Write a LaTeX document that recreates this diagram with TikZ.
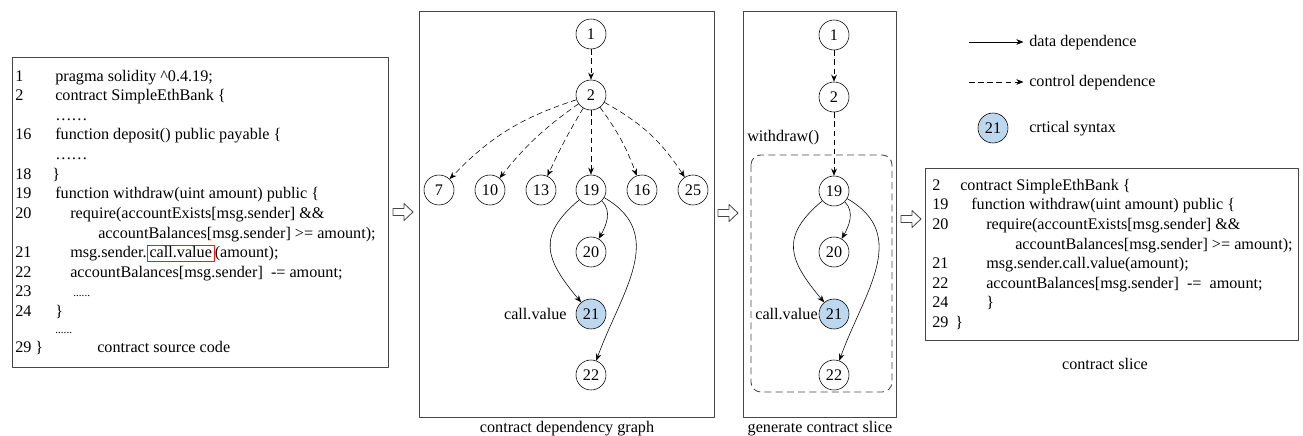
\documentclass[tikz,border=0pt]{standalone}
\usepackage{fontspec}
\setmainfont{Liberation Serif}
\usetikzlibrary{positioning,arrows.meta}
\definecolor{critblue}{RGB}{189,215,238}
\definecolor{boxgray}{RGB}{70,70,70}
\definecolor{hlred}{RGB}{235,30,30}
\tikzset{
  stmt/.style={anchor=west, inner sep=0pt, text height=1.6ex, text depth=.3ex},
  vtx/.style={circle, draw, minimum size=0.75cm, inner sep=0pt},
  crit/.style={vtx, fill=critblue},
  ctrl/.style={->, dash pattern=on 4pt off 2.5pt},
  data/.style={->},
  panel/.style={draw=boxgray, line width=0.6pt}
}
\begin{document}
\begin{tikzpicture}[x=0.025cm, y=-0.025cm, font=\fontsize{11.5}{14}\selectfont,
  line join=round, >={Stealth[length=5pt,width=4pt]}]
\useasboundingbox (0,0) rectangle (1303,435);
% source code
\draw[panel] (12,57) rectangle (388,367);
\path[every node/.style=stmt]
  (15,77) node (n1) {1} (55,77) node (c1) {pragma solidity \textasciicircum0.4.19;}
  (15,96.6) node (n2) {2} (55,96.6) node (c2) {contract SimpleEthBank \{}
  (55,116.2) node (d1) {\ldots\ldots}
  (15,135.8) node (n16) {16} (55,135.8) node (c16) {function deposit() public payable \{}
  (55,155.4) node (d2) {\ldots\ldots}
  (15,175) node (n18) {18} (52,175) node (c18) {\}}
  (15,194.6) node (n19) {19} (55,194.6) node (c19) {function withdraw(uint amount) public \{}
  (15,214.2) node (n20) {20} (70,214.2) node (c20) {require(accountExists[msg.sender] \&\&}
  (98,233.8) node (c20b) {accountBalances[msg.sender] >= amount);}
  (15,253.4) node (n21) {21} (70,253.4) node (c21) {msg.sender.}
  (15,273) node (n22) {22} (70,273) node (c22) {accountBalances[msg.sender] ~-= amount;}
  (15,292.6) node (n23) {23} (73,292.6) node (c23) {\footnotesize ......}
  (15,312.2) node (n24) {24} (55,312.2) node (c24) {\}}
  (55,329) node (d3) {\footnotesize ......}
  (15,348) node (n29) {29 \}} (97,348) node (src) {contract source code};
\node[stmt, right=0pt of c21, draw=hlred, line width=0.7pt, inner sep=1.5pt] (hl) {call.value};
\node[stmt, right=0pt of hl] (c21b) {(amount);};
% dependency graph
\draw[panel] (419,11) rectangle (714,417);
\node[vtx] (g1) at (591,34) {1};
\node[vtx] (g2) at (591,95) {2};
\foreach \n/\x in {7/439,10/490,13/541,19/591,16/642,25/693}
  \node[vtx] (g\n) at (\x,190) {\n};
\node[vtx] (g20) at (591,252) {20};
\node[crit] (g21) at (591,314) {21};
\node[vtx] (g22) at (591,375) {22};
\node[left=3pt of g21] (g21l) {call.value};
\draw[ctrl] (g1) -- (g2);
\draw[ctrl] (g2) to[bend right=14] (g7);
\draw[ctrl] (g2) to[bend right=8] (g10);
\draw[ctrl] (g2) to[bend right=3] (g13);
\draw[ctrl] (g2) -- (g19);
\draw[ctrl] (g2) to[bend left=8] (g16);
\draw[ctrl] (g2) to[bend left=14] (g25);
\draw[data] (g19) to[out=-45, in=60] (g20);
\draw[data] (g19) to[out=-140, in=130, looseness=1.4] (g21);
\draw[data] (g19) to[out=-30, in=70, looseness=1.15] (g22);
\node (cap1) at (567,429) {contract dependency graph};
% slice graph
\draw[panel] (743,11) rectangle (896,417);
\draw[boxgray, line width=0.6pt, dash pattern=on 5pt off 3pt, rounded corners=7pt]
  (751,155) rectangle (892,392);
\node[vtx] (h1) at (834,35) {1};
\node[vtx] (h2) at (834,97) {2};
\node[vtx] (h19) at (834,191) {19};
\node[vtx] (h20) at (834,252) {20};
\node[crit] (h21) at (834,314) {21};
\node[vtx] (h22) at (834,375) {22};
\node[left=0pt of h21, inner sep=0.5pt] (h21l) {call.value};
\node[stmt] (wd) at (747,137) {withdraw()};
\draw[ctrl] (h1) -- (h2);
\draw[ctrl] (h2) -- (h19);
\draw[data] (h19) to[out=-45, in=60] (h20);
\draw[data] (h19) to[out=-140, in=130, looseness=1.4] (h21);
\draw[data] (h19) to[out=-30, in=70, looseness=1.15] (h22);
\node (cap2) at (820,429) {generate contract slice};
% passing arrows
\coordinate (p1) at (403,212);
\coordinate (p2) at (728,213);
\coordinate (p3) at (911,219);
\foreach \p in {p1,p2,p3}
  \draw[boxgray, line width=0.6pt] ([shift={(-10,-3.5)}]\p) -- ++(11,0) -- ++(0,-5)
    -- ++(9,8.5) -- ++(-9,8.5) -- ++(0,-5) -- ++(-11,0) -- cycle;
% legend
\coordinate (lg1) at (969,42);
\coordinate (lg2) at (969,82);
\node[stmt] (ldata) at (1029,42) {data dependence};
\node[stmt] (lctrl) at (1029,82) {control dependence};
\draw[data] (lg1) -- ([xshift=-4pt]ldata.west);
\draw[ctrl] (lg2) -- ([xshift=-4pt]lctrl.west);
\node[crit] (lcrit) at (993,128) {21};
\node[stmt] (lcritl) at (1029,128) {crtical syntax};
% contract slice
\draw[panel] (925,168) rectangle (1298,340);
\path[every node/.style=stmt]
  (932,186) node (m2) {2} (960,186) node (k2) {contract SimpleEthBank \{}
  (932,205.6) node (m19) {19} (971,205.6) node (k19) {function withdraw(uint amount) public \{}
  (932,225.2) node (m20) {20} (986,225.2) node (k20) {require(accountExists[msg.sender] \&\&}
  (1015,244.8) node (k20b) {accountBalances[msg.sender] >= amount);}
  (932,264.4) node (m21) {21} (986,264.4) node (k21) {msg.sender.call.value(amount);}
  (932,284) node (m22) {22} (986,284) node (k22) {accountBalances[msg.sender] ~-= ~amount;}
  (932,303.6) node (m24) {24} (986,303.6) node (k24) {\}}
  (932,323.2) node (m29) {29} (955,323.2) node (k29) {\}};
\node (cap3) at (1105,364) {contract slice};
\end{tikzpicture}
\end{document}
